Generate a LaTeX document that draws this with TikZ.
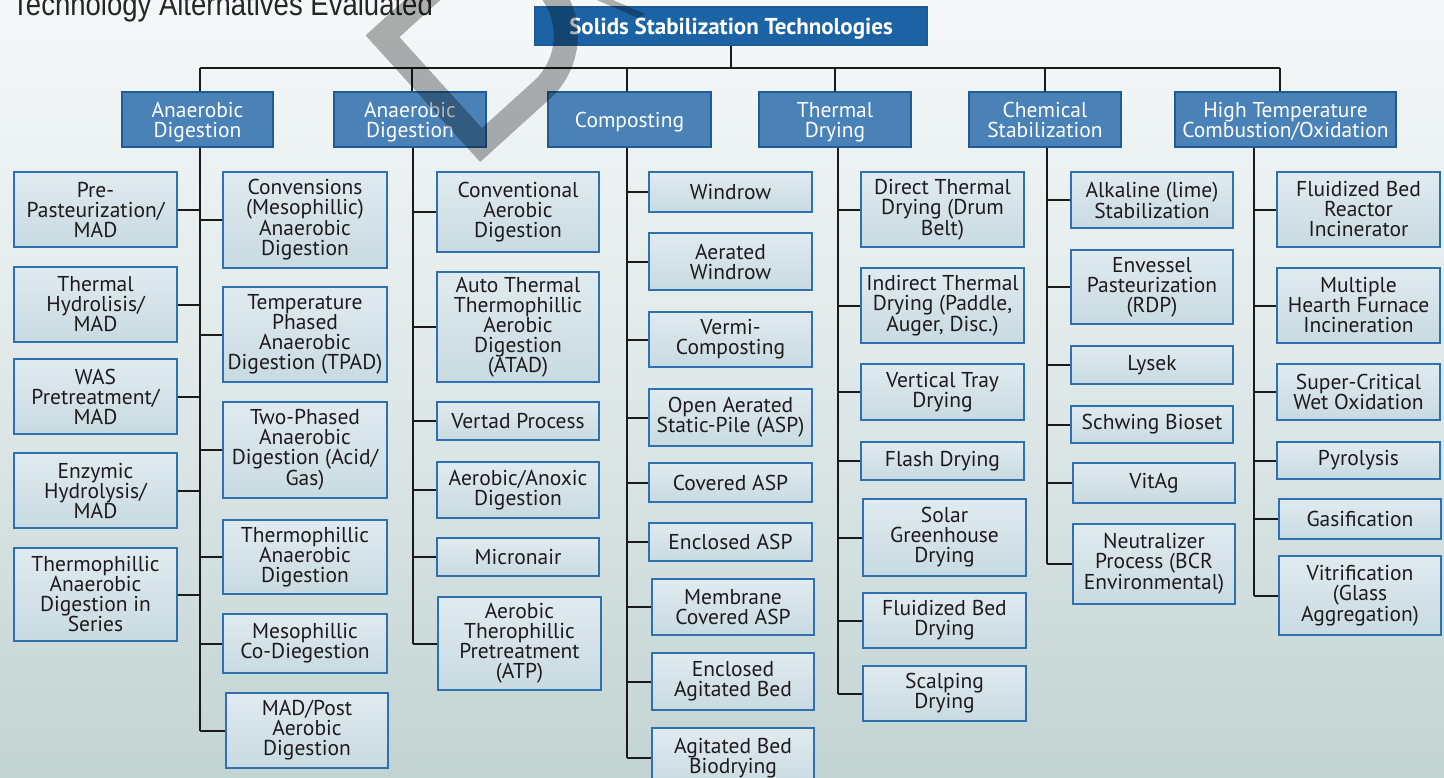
\documentclass[tikz,border=0pt]{standalone}
\usepackage{fontspec}
\setmainfont{PT Sans}
\newfontfamily\titlefont{Liberation Sans}
\usetikzlibrary{calc}
\definecolor{bgtop}{HTML}{F5F8F8}
\definecolor{bgmid}{HTML}{DFE8E8}
\definecolor{bgbot}{HTML}{C2D4D2}
\definecolor{leaftop}{HTML}{E0EBF0}
\definecolor{leafbot}{HTML}{C8DAE1}
\definecolor{leafline}{HTML}{2F70B0}
\definecolor{headfill}{HTML}{4A81B6}
\definecolor{headline}{HTML}{1E5C98}
\definecolor{rootfill}{HTML}{1B63A4}
\definecolor{wirec}{HTML}{1A1A1A}
\definecolor{txt}{HTML}{1E1B1C}
\definecolor{titlec}{HTML}{262626}
\tikzset{
 leaf/.style={draw=leafline, line width=1.2pt, top color=leaftop, bottom color=leafbot, inner sep=0pt, align=center, text=txt, font=\fontsize{21.5}{20}\selectfont},
 head/.style={draw=headline, line width=1.3pt, fill=headfill, inner sep=0pt, align=center, text=white, text depth=0pt, font=\fontsize{21.5}{20}\selectfont},
 rootbox/.style={draw=headline, line width=1.3pt, fill=rootfill, inner sep=0pt, text=white, text height=17pt, text depth=1pt, font=\bfseries\fontsize{23}{23}\selectfont},
 wire/.style={draw=wirec, line width=2pt},
 wm/.style={draw=black, draw opacity=0.3, line width=24pt, line join=miter}
}
\newcommand\bx[7][leaf]{\node[#1, minimum width={#4-#2}, minimum height={#5-#3}] (#6) at ({(#2+#4)/2},{(#3+#5)/2}) {#7};}
\begin{document}
\begin{tikzpicture}[x=1pt,y=-1pt]
\useasboundingbox (0,0) rectangle (1444,777);
\fill[top color=bgtop, bottom color=bgbot, middle color=bgmid] (0,0) rectangle (1444,777);
% title
\node[anchor=base west, inner sep=0pt, text=titlec] (title) at (12,15) {\scalebox{0.86}[1]{\titlefont\fontsize{32}{32}\selectfont Technology Alternatives Evaluated}};
% root and headers
\bx[rootbox]{535}{7}{927}{45}{root}{Solids Stabilization Technologies}
\bx[head]{122}{92}{273}{147}{h1}{Anaerobic\\Digestion}
\bx[head]{334}{92}{486}{147}{h2}{Anaerobic\\Digestion}
\bx[head]{548}{92}{711}{147}{h3}{Composting}
\bx[head]{759}{92}{911}{147}{h4}{Thermal\\Drying}
\bx[head]{969}{92}{1121}{147}{h5}{Chemical\\Stabilization}
\bx[head]{1175}{92}{1396}{147}{h6}{High Temperature\\Combustion/Oxidation}
% column 1 left
\bx{14}{172}{177}{247}{a1}{Pre-\\Pasteurization/\\MAD}
\bx{14}{267}{177}{342}{a2}{Thermal\\Hydrolisis/\\MAD}
\bx{14}{359}{177}{434}{a3}{WAS\\Pretreatment/\\MAD}
\bx{14}{453}{177}{528}{a4}{Enzymic\\Hydrolysis/\\MAD}
\bx{14}{548}{177}{641}{a5}{Thermophillic\\Anaerobic\\Digestion in\\Series}
% column 1 right
\bx{223}{172}{387}{268}{b1}{Convensions\\(Mesophillic)\\Anaerobic\\Digestion}
\bx{223}{287}{387}{382}{b2}{Temperature\\Phased\\Anaerobic\\Digestion (TPAD)}
\bx{223}{402}{387}{498}{b3}{Two-Phased\\Anaerobic\\Digestion (Acid/\\Gas)}
\bx{223}{520}{387}{594}{b4}{Thermophillic\\Anaerobic\\Digestion}
\bx{223}{614}{387}{673}{b5}{Mesophillic\\Co-Diegestion}
\bx{226}{693}{388}{768}{b6}{MAD/Post\\Aerobic\\Digestion}
% column 2
\bx{437}{172}{599}{252}{c1}{Conventional\\Aerobic\\Digestion}
\bx{437}{272}{599}{382}{c2}{Auto Thermal\\Thermophillic\\Aerobic\\Digestion\\(ATAD)}
\bx{437}{402}{599}{440}{c3}{Vertad Process}
\bx{437}{462}{599}{518}{c4}{Aerobic/Anoxic\\Digestion}
\bx{437}{538}{599}{576}{c5}{Micronair}
\bx{438}{597}{601}{690}{c6}{Aerobic\\Therophillic\\Pretreatment\\(ATP)}
% column 3
\bx{649}{172}{812}{212}{d1}{Windrow}
\bx{649}{233}{812}{290}{d2}{Aerated\\Windrow}
\bx{649}{312}{812}{367}{d3}{Vermi-\\Composting}
\bx{649}{389}{812}{446}{d4}{Open Aerated\\Static-Pile (ASP)}
\bx{649}{463}{812}{502}{d5}{Covered ASP}
\bx{649}{523}{812}{561}{d6}{Enclosed ASP}
\bx{652}{579}{814}{635}{d7}{Membrane\\Covered ASP}
\bx{652}{653}{814}{710}{d8}{Enclosed\\Agitated Bed}
\bx{652}{728}{814}{788}{d9}{Agitated Bed\\Biodrying}
% column 4
\bx{861}{172}{1024}{247}{e1}{Direct Thermal\\Drying (Drum\\Belt)}
\bx{861}{268}{1024}{343}{e2}{Indirect Thermal\\Drying (Paddle,\\Auger, Disc.)}
\bx{861}{364}{1024}{420}{e3}{Vertical Tray\\Drying}
\bx{861}{442}{1024}{480}{e4}{Flash Drying}
\bx{863}{499}{1026}{576}{e5}{Solar\\Greenhouse\\Drying}
\bx{863}{593}{1026}{648}{e6}{Fluidized Bed\\Drying}
\bx{863}{666}{1026}{721}{e7}{Scalping\\Drying}
% column 5
\bx{1071}{172}{1233}{228}{f1}{Alkaline (lime)\\Stabilization}
\bx{1071}{250}{1233}{324}{f2}{Envessel\\Pasteurization\\(RDP)}
\bx{1071}{346}{1233}{384}{f3}{Lysek}
\bx{1071}{406}{1233}{443}{f4}{Schwing Bioset}
\bx{1073}{463}{1235}{503}{f5}{VitAg}
\bx{1073}{524}{1235}{604}{f6}{Neutralizer\\Process (BCR\\Environmental)}
% column 6
\bx{1277}{172}{1440}{247}{g1}{Fluidized Bed\\Reactor\\Incinerator}
\bx{1277}{268}{1440}{343}{g2}{Multiple\\Hearth Furnace\\Incineration}
\bx{1277}{364}{1440}{420}{g3}{Super-Critical\\Wet Oxidation}
\bx{1277}{442}{1440}{479}{g4}{Pyrolysis}
\bx{1279}{499}{1441}{539}{g5}{Gasification}
\bx{1279}{556}{1441}{635}{g6}{Vitrification\\(Glass\\Aggregation)}
% connector coordinates
\coordinate (bus) at (0,68);
\coordinate (t1) at (200,0); \coordinate (t2) at (412,0); \coordinate (t3) at (627,0);
\coordinate (t4) at (835,0); \coordinate (t5) at (1045,0); \coordinate (t6) at (1280,0);
\coordinate (v1) at (200,0); \coordinate (v2) at (413,0); \coordinate (v3) at (627,0);
\coordinate (v4) at (838,0); \coordinate (v5) at (1047,0); \coordinate (v6) at (1254,0);
% top tree
\draw[wire] (root.south) -- (root.south |- bus);
\draw[wire] (t1 |- bus) -- (t6 |- bus);
\foreach \i in {1,...,6} {\draw[wire] (t\i |- bus) -- (t\i |- h\i.north);}
% column trunks
\draw[wire] (v1 |- h1.south) -- (v1 |- b6.west);
\draw[wire] (v2 |- h2.south) -- (v2 |- c6.west);
\draw[wire] (v3 |- h3.south) -- (v3 |- d9.west);
\draw[wire] (v4 |- h4.south) -- (v4 |- e7.west);
\draw[wire] (v5 |- h5.south) -- (v5 |- f6.west);
\draw[wire] (v6 |- h6.south) -- (v6 |- g6.west);
% branches
\foreach \n in {a1,a2,a3,a4,a5} {\draw[wire] (\n.east) -- (\n.east -| v1);}
\foreach \n in {b1,b2,b3,b4,b5,b6} {\draw[wire] (\n.west) -- (\n.west -| v1);}
\foreach \n in {c1,c2,c3,c4,c5,c6} {\draw[wire] (\n.west) -- (\n.west -| v2);}
\foreach \n in {d1,d2,d3,d4,d5,d6,d7,d8,d9} {\draw[wire] (\n.west) -- (\n.west -| v3);}
\foreach \n in {e1,e2,e3,e4,e5,e6,e7} {\draw[wire] (\n.west) -- (\n.west -| v4);}
\foreach \n in {f1,f2,f3,f4,f5,f6} {\draw[wire] (\n.west) -- (\n.west -| v5);}
\foreach \n in {g1,g2,g3,g4,g5,g6} {\draw[wire] (\n.west) -- (\n.west -| v6);}
% watermark
\begin{scope}[shift={(481,145)}, x={(0.74pt,0.67pt)}, y={(-0.67pt,0.74pt)}]
\draw[wm] (0,0) -- (0,147) -- (82,147) arc[start angle=90, end angle=-90, radius=73.5] -- cycle;
\end{scope}
\fill[black, fill opacity=0.3] (597,0) -- (613,0) -- (645,14) -- (638,18) -- cycle;
\end{tikzpicture}
\end{document}
